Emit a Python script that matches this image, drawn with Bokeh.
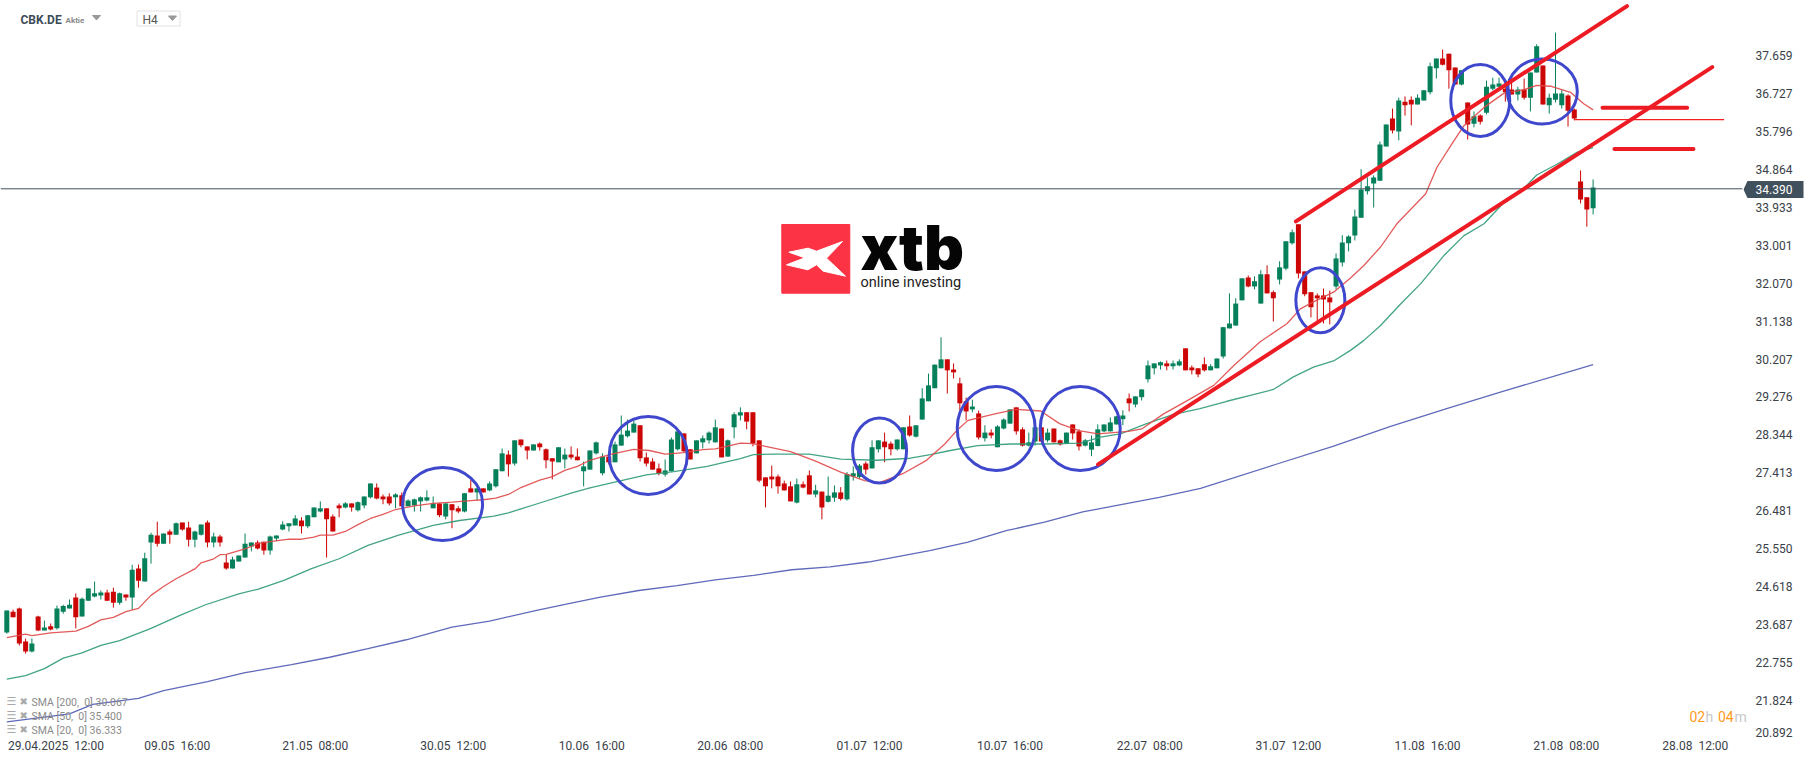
from bokeh.plotting import figure
from bokeh.models import (ColumnDataSource, Range1d, LinearAxis, FixedTicker, Label, AllLabels,
                          NumeralTickFormatter)
from bokeh.embed import file_html
from bokeh.resources import INLINE

opens = [23.49,24.00,24.08,23.27,23.02,23.88,23.54,23.64,23.59,24.00,
24.08,24.35,23.88,24.27,24.37,24.40,24.47,24.49,24.22,24.42,
24.35,25.06,24.74,25.70,25.87,25.67,25.97,25.89,26.19,26.07,
25.77,25.89,26.19,25.70,25.85,25.21,25.06,25.23,25.33,25.60,
25.70,25.72,25.50,25.80,26.02,26.10,26.12,26.24,26.10,26.32,
26.46,26.54,26.34,26.61,26.56,26.66,26.49,26.61,26.81,27.05,
26.83,26.83,26.81,26.86,26.59,26.61,26.71,26.73,26.54,26.66,
26.34,26.64,26.54,26.46,27.03,26.93,27.03,26.98,27.08,27.45,
27.86,27.64,28.23,28.06,27.96,28.13,27.99,27.77,27.67,27.74,
27.86,27.81,27.45,27.49,27.89,27.40,27.81,27.67,28.08,28.31,
28.40,28.58,27.79,27.69,27.52,27.37,27.45,27.99,28.38,27.99,
27.89,28.16,28.21,28.16,28.50,27.81,28.53,28.82,28.90,28.90,
28.21,27.30,27.32,27.32,27.15,27.08,26.68,27.13,27.35,26.88,
26.95,26.70,26.80,26.93,26.76,27.32,27.31,27.64,27.52,27.99,
28.18,28.13,27.99,27.99,28.55,28.30,28.72,29.17,29.49,29.98,
30.20,29.95,29.61,29.17,28.97,28.87,28.26,28.40,28.04,28.50,
28.62,29.02,28.48,28.08,28.18,28.53,28.21,28.50,28.21,28.13,
28.60,28.43,28.08,27.98,28.07,28.43,28.43,28.60,28.73,29.24,
29.09,29.27,29.71,29.98,30.05,30.10,30.03,30.05,30.47,30.00,
29.98,30.08,29.93,29.98,30.27,30.96,31.03,31.65,32.21,31.99,
31.57,32.29,31.85,32.16,32.43,33.05,33.52,32.36,31.85,31.77,
31.77,31.72,31.99,32.58,33.05,33.24,33.68,34.33,34.52,34.59,
35.43,36.12,35.80,36.53,36.58,36.46,36.56,36.76,37.35,37.59,
37.71,37.37,36.95,36.51,35.99,36.19,36.26,36.85,36.90,36.85,
36.83,36.71,36.83,36.63,37.25,37.42,36.44,36.58,36.44,36.68,
36.34,34.57,34.18,33.91]
highs = [24.03,24.05,24.10,23.34,23.34,23.90,23.78,23.71,24.15,24.17,
24.30,24.45,24.35,24.57,24.74,24.52,24.54,24.59,24.47,24.42,
25.15,25.16,25.45,25.94,26.21,25.92,26.02,26.19,26.19,26.21,
25.99,26.14,26.24,25.94,25.89,25.40,25.35,25.38,25.92,25.70,
25.75,25.72,25.87,25.87,26.22,26.17,26.37,26.32,26.37,26.56,
26.71,26.54,26.39,26.66,26.69,26.66,26.71,26.83,27.15,27.15,
26.88,26.91,26.91,26.93,26.76,26.78,26.83,26.98,26.83,26.66,
26.66,26.64,26.59,26.91,27.23,27.03,27.03,27.20,27.50,28.01,
27.96,28.21,28.23,28.06,28.11,28.16,28.01,27.77,28.04,28.01,
28.06,28.01,27.69,27.96,28.18,27.89,27.81,28.18,28.82,28.72,
28.70,28.58,27.91,27.77,27.64,27.74,28.28,28.45,28.38,27.99,
28.21,28.33,28.43,28.72,28.50,28.23,28.90,29.02,28.90,28.90,
28.21,27.30,27.59,27.37,27.22,27.20,27.27,27.20,27.47,27.12,
26.95,27.32,27.10,27.06,27.43,27.57,27.63,27.69,28.21,28.21,
28.40,28.18,28.23,28.53,28.82,28.58,29.49,29.85,30.07,30.74,
30.20,30.10,29.75,29.26,29.21,28.94,28.58,28.48,28.58,28.75,
28.97,29.02,28.53,28.40,28.53,28.53,28.50,28.50,28.23,28.40,
28.60,28.48,28.24,28.33,28.60,28.60,28.77,28.80,28.95,29.36,
29.29,29.46,30.17,30.10,30.15,30.17,30.17,30.20,30.47,30.05,
29.98,30.25,30.08,30.22,30.99,31.82,31.70,32.19,32.26,32.24,
32.39,32.51,31.89,32.61,33.10,33.39,33.52,32.36,31.85,31.82,
31.94,31.89,32.80,33.25,33.25,33.88,34.87,34.67,34.72,35.55,
35.97,36.36,36.63,36.66,36.66,36.71,36.81,37.49,37.59,37.81,
37.71,37.37,37.30,36.51,36.29,36.22,37.05,37.12,37.12,36.98,
37.00,36.90,37.10,37.25,37.94,37.42,36.73,38.23,36.83,36.71,
36.36,34.84,34.18,34.62]
lows = [23.46,23.86,23.17,22.97,23.00,23.52,23.54,23.54,23.56,23.95,
24.08,23.59,23.88,24.27,24.35,24.30,24.27,24.10,24.17,24.27,
24.05,24.59,24.74,25.18,25.60,25.67,25.67,25.89,25.99,25.60,
25.58,25.87,25.58,25.58,25.60,25.03,25.06,25.23,25.33,25.48,
25.53,25.40,25.40,25.73,26.00,25.97,26.12,25.92,26.05,26.32,
26.44,25.33,25.97,26.32,26.54,26.46,26.46,26.54,26.78,26.76,
26.64,26.61,26.54,26.59,26.59,26.46,26.46,26.71,26.54,26.32,
26.27,26.05,26.42,26.44,26.93,26.73,26.93,26.96,27.05,27.45,
27.32,27.59,28.04,27.74,27.96,27.96,27.52,27.25,27.67,27.52,
27.74,27.72,27.08,27.49,27.86,27.35,27.62,27.67,28.08,28.28,
28.40,27.69,27.57,27.49,27.35,27.32,27.45,27.96,27.91,27.74,
27.89,28.01,28.13,28.16,27.79,27.81,28.26,28.70,28.48,28.06,
27.18,26.56,27.03,26.90,26.98,26.71,26.66,27.03,26.88,26.81,
26.27,26.68,26.70,26.73,26.73,27.22,27.27,27.37,27.52,27.91,
27.67,27.84,27.96,27.99,28.30,28.28,28.72,29.17,29.49,29.98,
29.36,29.73,28.94,28.70,28.90,28.23,28.18,28.26,28.04,28.48,
28.62,28.35,28.06,28.06,28.08,28.18,28.16,28.16,28.08,28.13,
28.23,27.96,28.06,27.82,28.06,28.41,28.43,28.60,28.58,28.92,
29.02,29.19,29.63,29.83,29.95,29.93,29.95,30.03,29.93,29.83,
29.76,29.90,29.93,29.98,30.22,30.96,31.03,31.65,31.97,31.92,
31.57,31.82,31.13,32.04,32.39,33.02,32.19,31.75,31.23,31.13,
31.08,31.06,31.92,32.48,32.85,33.12,33.68,34.25,33.93,34.59,
35.43,35.75,35.58,36.19,35.95,36.46,36.56,36.71,37.10,37.42,
36.85,36.95,36.93,35.60,35.90,35.97,36.22,36.81,36.90,36.53,
36.71,36.56,36.58,36.29,37.25,36.46,36.24,36.51,36.36,35.92,
36.07,34.03,33.46,33.76]
closes = [24.03,23.86,23.22,23.02,23.22,23.54,23.61,23.56,24.08,24.14,
24.17,23.86,24.32,24.57,24.45,24.47,24.27,24.22,24.45,24.35,
25.03,24.76,25.31,25.89,25.67,25.92,25.89,26.17,26.02,25.77,
25.97,26.14,25.70,25.85,25.70,25.06,25.28,25.38,25.67,25.70,
25.55,25.50,25.85,25.87,26.14,26.17,26.29,26.10,26.37,26.56,
26.54,26.27,25.97,26.54,26.66,26.56,26.69,26.83,27.15,26.78,
26.76,26.66,26.88,26.59,26.73,26.76,26.81,26.81,26.66,26.37,
26.66,26.49,26.46,26.91,26.93,27.03,26.93,27.15,27.50,27.89,
27.62,28.21,28.09,27.96,28.11,28.04,27.72,27.69,28.04,27.86,
27.79,27.72,27.57,27.96,28.16,27.81,27.67,28.11,28.35,28.45,
28.62,27.77,27.64,27.49,27.40,27.47,28.23,28.43,27.94,27.74,
28.21,28.26,28.40,28.53,27.79,28.21,28.85,28.90,28.67,28.13,
27.22,27.08,27.25,27.08,26.98,26.71,27.13,27.05,26.88,26.98,
26.56,26.85,26.93,26.77,27.38,27.40,27.59,27.49,28.04,28.21,
28.04,27.99,28.23,28.53,28.33,28.58,29.24,29.56,30.07,30.20,
29.93,29.88,29.12,28.92,29.04,28.28,28.40,28.33,28.55,28.72,
28.97,28.43,28.08,28.16,28.53,28.18,28.40,28.16,28.11,28.40,
28.38,28.06,28.21,28.16,28.48,28.60,28.65,28.80,28.82,29.12,
29.29,29.46,30.05,30.10,30.13,30.03,30.10,30.15,29.93,29.93,
29.83,29.93,30.03,30.22,30.99,31.08,31.57,32.19,31.99,32.12,
32.29,31.82,31.70,32.46,33.10,33.32,32.31,31.80,31.48,31.70,
31.67,31.60,32.68,33.07,33.22,33.71,34.37,34.45,34.67,35.48,
35.97,35.82,36.56,36.44,36.46,36.63,36.81,37.40,37.59,37.44,
37.30,36.95,37.30,35.97,36.17,36.04,36.90,36.95,36.98,36.76,
36.71,36.83,36.63,37.25,37.89,36.46,36.63,36.73,36.73,36.31,
36.12,34.13,33.88,34.42]

sma20_x = [0,3,4,7,11,13,15,17,19,21,23,25,27,30,31,33,34,35,38,40,42,45,47,49,50,52,54,56,58,60,62,65,68,71,74,76,78,80,82,85,87,89,91,93,95,97,100,102.5,105,108,111,113,115,117,119,121,125,129,133,136.8,139.2,142.9,146.6,149.6,151.5,153.3,157.6,160.9,164.9,167.9,171,174,178.9,181,184.5,188.2,192.5,195.7,199.9,204.2,206.3,208.4,211.6,214.3,216.4,219.1,221.7,226.3,228.1,230.3,232.4,235.6,238.8,241.9,244,246.2,249.4,251.5,253]
sma20_y = [23.36,23.45,23.41,23.48,23.52,23.64,23.80,23.86,24.00,24.08,24.40,24.62,24.81,25.05,25.20,25.30,25.40,25.41,25.54,25.67,25.72,25.78,25.78,25.83,25.88,25.88,25.97,26.14,26.29,26.39,26.51,26.60,26.66,26.69,26.73,26.75,26.79,26.88,27.05,27.23,27.32,27.47,27.57,27.72,27.81,27.89,27.99,27.96,27.87,27.91,27.98,28.00,28.07,28.14,28.13,28.06,27.93,27.70,27.43,27.22,27.17,27.39,27.71,28.12,28.45,28.70,28.86,28.97,28.93,28.62,28.45,28.37,28.43,28.49,28.86,29.18,29.56,30.05,30.63,31.08,31.44,31.61,31.85,32.20,32.50,32.96,33.53,34.27,34.92,35.45,35.94,36.39,36.74,36.82,36.93,36.91,36.76,36.48,36.33]
sma50_x = [0,3,6,9,12,15,18,23,27.8,31.7,37,40,44.2,48.5,53,57.6,62.5,68,72.2,77.7,80,85,90,93,98,102,106.4,111.7,117,119.1,122.3,128,133,138.8,144.1,147.3,150.5,154.8,160.1,165.4,171.3,174.4,177.6,181.8,186.1,190.3,194.6,198.8,202,205.2,208.4,211.6,214.3,216.4,219.1,222.3,225.5,229.2,232.4,235.6,238.8,241.9,244,247.3,250.5,253]
sma50_y = [22.34,22.43,22.60,22.86,22.99,23.17,23.29,23.59,23.92,24.17,24.44,24.55,24.77,25.05,25.30,25.63,25.88,26.12,26.24,26.35,26.43,26.67,26.91,27.04,27.22,27.36,27.44,27.57,27.76,27.86,27.87,27.87,27.75,27.72,27.77,27.86,27.96,28.08,28.12,28.12,28.14,28.29,28.37,28.62,28.85,28.99,29.17,29.33,29.46,29.77,30.01,30.16,30.42,30.66,31.03,31.56,32.06,32.75,33.24,33.53,34.06,34.39,34.73,35.00,35.29,35.40]
sma200_x = [0,10,13.7,21,25,32,38,45.4,51.5,57.6,63.7,71,77,84.5,90,94.7,100.8,106.9,113,119.1,125.2,131.3,137.4,142.3,147.2,153.3,159.4,165.5,171.6,177.7,183.8,190.4,202.2,211.5,220.7,229.9,239,253]
sma200_y = [21.29,21.49,21.72,21.87,22.06,22.28,22.50,22.70,22.88,23.09,23.31,23.62,23.77,24.03,24.21,24.36,24.52,24.64,24.78,24.89,25.03,25.10,25.22,25.36,25.50,25.71,25.99,26.20,26.45,26.63,26.81,27.03,27.61,28.06,28.55,29.00,29.43,30.07]

circle_x = [69.5,102.3,139.2,157.8,171.2,209.5,235.0,244.9]
circle_y = [26.645,27.84,27.96,28.50,28.50,31.65,36.56,36.78]
circle_w = [80,78,54,78,80,49,59,70]
circle_h = [73,78,65,84,84,65,72,65]

line_x0 = [205.6,174.05,254.5,256.4]
line_y0 = [33.59,27.62,36.38,35.37]
line_x1 = [258.4,272.0,268.0,269.0]
line_y1 = [38.88,37.38,36.38,35.37]

last_price = 34.390
last_line_x = [-1.0,276.8]
level_x = [250.1,273.9]
level_y = 36.09

y_ticks = [37.659,36.727,35.796,34.864,33.933,33.001,32.070,31.138,30.207,29.276,28.344,27.413,26.481,25.550,24.618,23.687,22.755,21.824,21.03]
y_tick_overrides = {21.03:"20.892"}
x_ticks = [7.84,27.2,49.2,71.2,93.3,115.4,137.6,160,182.3,204.4,226.6,248.7,269.3]
NB = "\u00a0\u00a0"
x_labels = [a + NB + b for a, b in [("29.04.2025","12:00"),("09.05","16:00"),("21.05","08:00"),("30.05","12:00"),("10.06","16:00"),("20.06","08:00"),("01.07","12:00"),("10.07","16:00"),("22.07","08:00"),("31.07","12:00"),("11.08","16:00"),("21.08","08:00"),("28.08","12:00")]]

W, H = 1815, 761
FW, FH = 1750, 735
STEP, X0 = 6.27, 6.3
PX, Y0 = 40.7, 188.3
def ix(px): return (px - X0) / STEP
def pv(py): return last_price - (py - Y0) / PX

GREEN, RED = "#05805a", "#cc0505"
p = figure(width=W, height=H, output_backend="svg", toolbar_location=None,
           x_range=Range1d(ix(0), ix(FW)), y_range=Range1d(pv(FH), pv(0)),
           x_axis_location=None, y_axis_location=None,
           min_border_left=0, min_border_top=0, min_border_right=W-FW, min_border_bottom=H-FH,
           outline_line_color=None, background_fill_color="white",
           styles={"position":"absolute","left":"0px","top":"0px"})
p.grid.visible = False

# logo
p.quad(left=[ix(781.3)], right=[ix(849.3)], bottom=[pv(292.7)], top=[pv(224)], color="#fb3344")
logo_zx = [85,143,168,246,198,255,188,168,142,78,133]
logo_zy = [125,113,122,93,143,197,182,163,178,163,142]
p.patch([ix(760+a/3) for a in logo_zx], [pv(210+b/3) for b in logo_zy], color="white")

def lab(x, y, text, size, color="#3a4149", style="normal", font="Roboto", align="left", **kw):
    l = Label(x=x, y=FH-y, x_units="screen", y_units="screen", text=text, text_font=font,
              text_font_size=f"{size}px", text_color=color, text_font_style=style,
              text_align=align, text_baseline="middle", **kw)
    p.add_layout(l)

lab(860, 247, "xtb", 62, "#050505", "normal", "'Inter Black', 'Lato Black', Inter")
lab(860, 282, "online investing", 14.5, "#222222", "normal", "Roboto")

xs = list(range(len(opens)))
colors = [GREEN if c >= o else RED for o, c in zip(opens, closes)]
src = ColumnDataSource(dict(x=xs, o=opens, h=highs, l=lows, c=closes, col=colors,
                            top=[max(a,b) for a,b in zip(opens,closes)],
                            bot=[min(a,b) for a,b in zip(opens,closes)]))
p.segment("x","h","x","l",source=src,color="col",line_width=1)
p.vbar("x",0.8,"top","bot",source=src,fill_color="col",line_color=None)

p.line(sma200_x, sma200_y, color="#4f5ab4", line_width=1.3, line_alpha=0.9)
p.line(sma50_x, sma50_y, color="#2f9a78", line_width=1.3, line_alpha=0.9)
p.line(sma20_x, sma20_y, color="#e04848", line_width=1.3, line_alpha=0.9)

p.line(last_line_x, [last_price,last_price], color="#40505c", line_width=1)
p.line(level_x, [level_y,level_y], color="#f52020", line_width=1.1)

p.ellipse(circle_x, circle_y, width=circle_w, height=circle_h, width_units="screen",
          height_units="screen", fill_color=None, line_color="#3f48cc", line_width=3)
p.segment(line_x0,line_y0,line_x1,line_y1,color="#ed1c24",line_width=4,line_cap="round")

yax = LinearAxis(ticker=FixedTicker(ticks=y_ticks),
                 formatter=NumeralTickFormatter(format="0.000"),
                 major_label_overrides=y_tick_overrides, major_label_policy=AllLabels(),
                 axis_line_color=None, major_tick_line_color=None, minor_tick_line_color=None,
                 major_tick_out=0, major_tick_in=0, minor_tick_out=0, minor_tick_in=0,
                 major_label_text_font="Roboto", major_label_text_font_size="12px",
                 major_label_text_color="#3a4149", major_label_standoff=5)
p.add_layout(yax, "right")
xax = LinearAxis(ticker=FixedTicker(ticks=x_ticks),
                 major_label_overrides=dict(zip(x_ticks,x_labels)), major_label_policy=AllLabels(),
                 axis_line_color=None, major_tick_line_color=None, minor_tick_line_color=None,
                 major_tick_out=0, major_tick_in=0, minor_tick_out=0, minor_tick_in=0,
                 major_label_text_font="Roboto", major_label_text_font_size="12px",
                 major_label_text_color="#3a4149", major_label_standoff=3)
p.add_layout(xax, "below")

# header
lab(20, 19, "CBK.DE", 12, "#3d4b57", "bold")
lab(65, 20, "Aktie", 8, "#8a8a8a", "bold")
p.patch([ix(92),ix(100),ix(96)],[pv(15),pv(15),pv(19.5)],color="#999999")
p.quad(left=[ix(136.5)],right=[ix(179.5)],bottom=[pv(25.5)],top=[pv(10.5)],fill_color="white",line_color="#e2e2e2")
lab(142, 19.5, "H4", 12, "#555555")
p.patch([ix(168),ix(176),ix(172)],[pv(15.5),pv(15.5),pv(20)],color="#999999")

# indicator legend
for yy, t in zip([701.7,715.7,729.7],["SMA [200,\u00a0\u00a00] 30.067","SMA [50,\u00a0\u00a00] 35.400","SMA [20,\u00a0\u00a00] 36.333"]):
    lab(6, yy-1, "\u2630", 11, "#a8a8a8", "bold", "DejaVu Sans")
    lab(19, yy-1, "\u2716", 10, "#a8a8a8", "normal", "DejaVu Sans")
    lab(31, yy, t, 10.5, "#8a8a8a")

# timer
lab(1689, 716, "02", 14, "#ff9a1f")
lab(1705, 716, "h", 14, "#c8c8c8")
lab(1717.5, 716, "04", 14, "#ff9a1f")
lab(1734, 716, "m", 14, "#c8c8c8")

# current price tag: a small figure of its own over the right-hand axis
tag = figure(width=61, height=18, output_backend="svg", toolbar_location=None,
             x_range=Range1d(0, 61), y_range=Range1d(0, 18),
             x_axis_location=None, y_axis_location=None, min_border=0,
             outline_line_color=None, background_fill_color=None, border_fill_color=None,
             styles={"position":"absolute","left":"1743px","top":"180px"})
tag.grid.visible = False
tag.patch([0,4,60,60,4],[9,17.5,17.5,0.5,0.5],color="#40505c",line_color=None)
tag.add_layout(Label(x=12, y=9, x_units="data", y_units="data", text=f"{last_price:.3f}",
                     text_font="Roboto", text_font_size="12px", text_color="#ffffff",
                     text_baseline="middle"))

open("out.html","w").write(file_html((p, tag), INLINE))
